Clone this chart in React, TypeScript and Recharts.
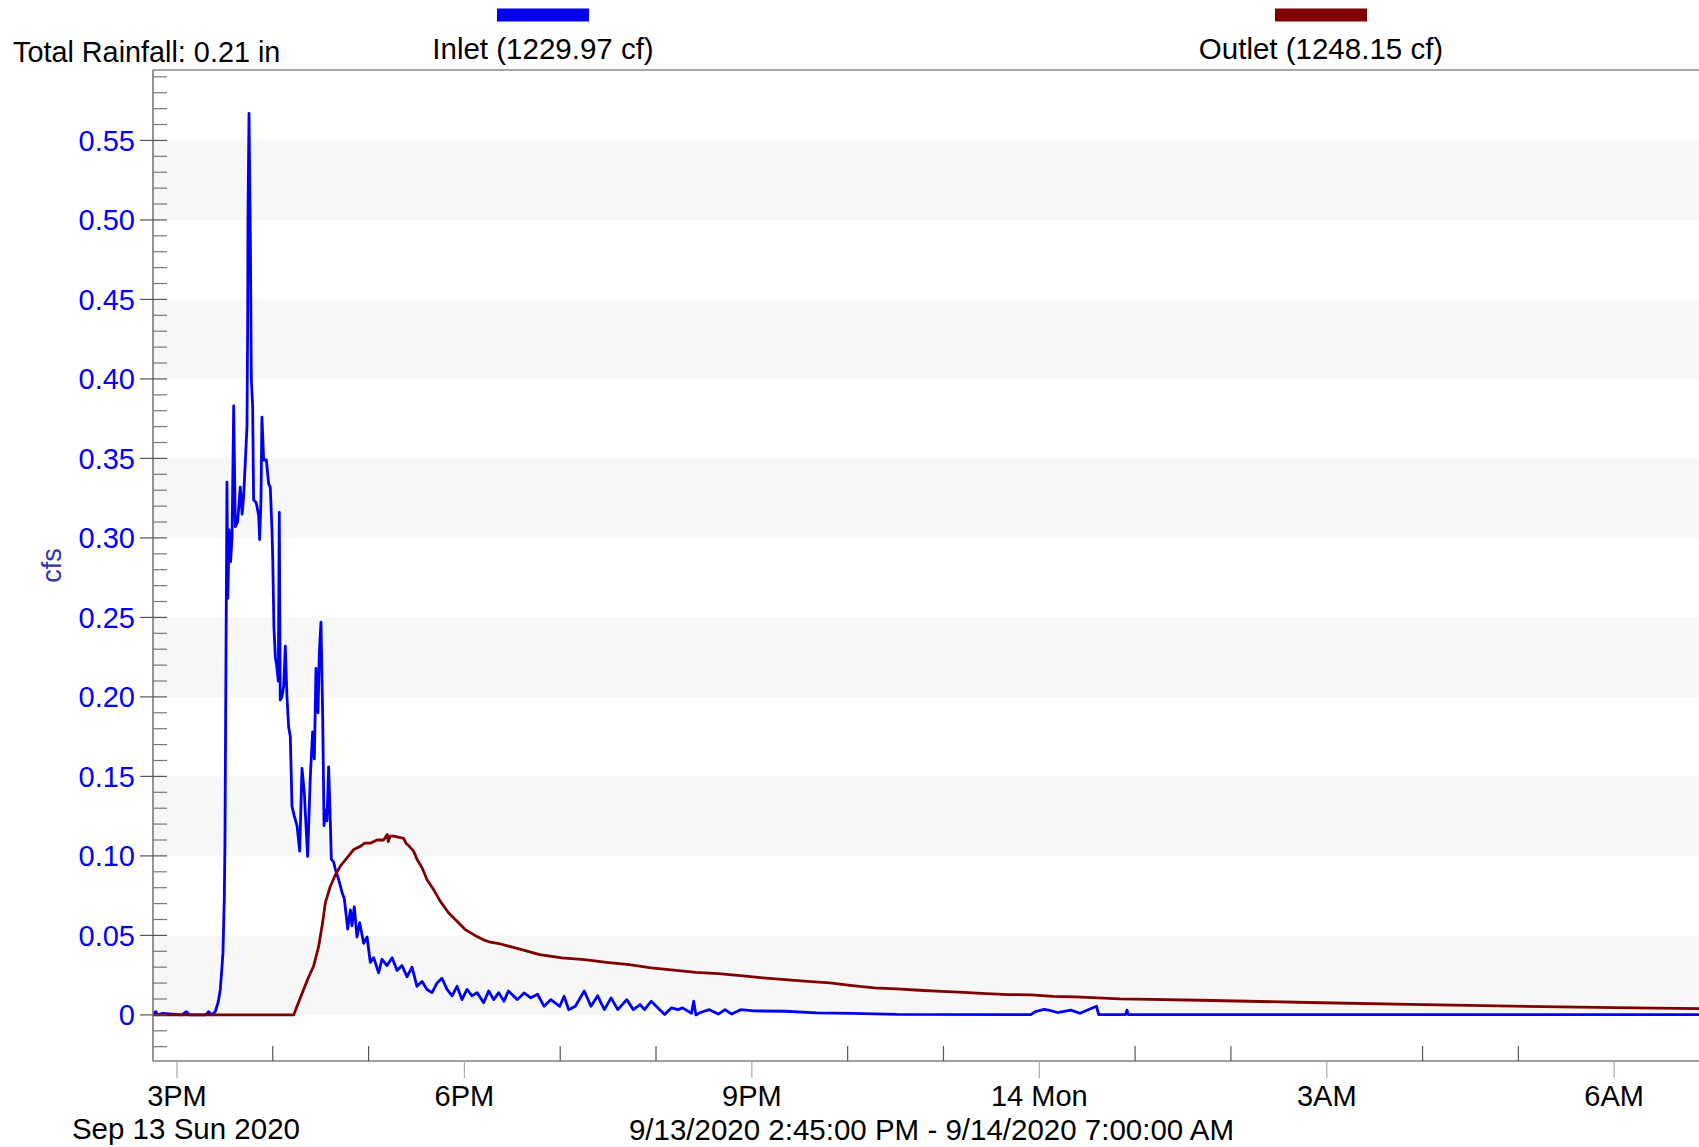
import { LineChart, Line, XAxis, YAxis, ReferenceArea, ReferenceLine } from 'recharts';

// time in hours from midnight 9/13/2020 (24 = midnight 9/14)
const inletHours = [
  14.75, 14.78, 14.8, 14.85, 15.05, 15.1, 15.13, 15.3, 15.33, 15.36, 15.4, 15.43, 15.4525, 15.468, 15.48, 15.494,
  15.501, 15.508, 15.515, 15.522, 15.531, 15.545, 15.56, 15.575, 15.592, 15.609, 15.633, 15.661, 15.68, 15.696,
  15.731, 15.738, 15.741, 15.752, 15.766, 15.776, 15.79, 15.8, 15.828, 15.853, 15.863, 15.877, 15.887, 15.905,
  15.933, 15.957, 15.974, 15.992, 16.0, 16.012, 16.027, 16.04, 16.058, 16.068, 16.078, 16.096, 16.114, 16.131,
  16.148, 16.166, 16.183, 16.201, 16.225, 16.253, 16.281, 16.305, 16.329, 16.364, 16.392, 16.416, 16.434, 16.451,
  16.472, 16.486, 16.503, 16.521, 16.535, 16.552, 16.566, 16.583, 16.601, 16.611, 16.636, 16.653, 16.688, 16.723,
  16.747, 16.782, 16.81, 16.827, 16.851, 16.879, 16.907, 16.949, 16.984, 17.018, 17.053, 17.105, 17.14, 17.192,
  17.245, 17.297, 17.349, 17.401, 17.453, 17.505, 17.558, 17.61, 17.662, 17.714, 17.766, 17.819, 17.871, 17.923,
  17.975, 18.027, 18.08, 18.132, 18.201, 18.253, 18.306, 18.358, 18.413, 18.459, 18.553, 18.623, 18.693, 18.763,
  18.832, 18.901, 18.995, 19.041, 19.088, 19.158, 19.251, 19.321, 19.391, 19.461, 19.531, 19.601, 19.694, 19.763,
  19.834, 19.88, 19.95, 20.02, 20.09, 20.16, 20.23, 20.276, 20.37, 20.393, 20.416, 20.463, 20.556, 20.65, 20.72,
  20.79, 20.883, 21.023, 21.348, 21.675, 22.048, 22.513, 23.912, 23.958, 24.05, 24.098, 24.19, 24.33, 24.424,
  24.597, 24.62, 24.9, 24.915, 24.93, 31.0,
];
const inletCfs = [
  0.001, 0.002, 0.0, 0.001, 0.0, 0.002, 0.0, 0.0, 0.002, 0.0, 0.002, 0.008, 0.016, 0.0285, 0.039, 0.0725,
  0.108, 0.184, 0.259, 0.335, 0.262, 0.305, 0.285, 0.3, 0.383, 0.307, 0.31, 0.332, 0.315, 0.326,
  0.37, 0.435, 0.5, 0.567, 0.49, 0.4, 0.383, 0.324, 0.322, 0.314, 0.299, 0.324, 0.376, 0.349,
  0.349, 0.334, 0.332, 0.305, 0.286, 0.244, 0.225, 0.22, 0.21, 0.316, 0.198, 0.2, 0.207, 0.232,
  0.2, 0.181, 0.175, 0.131, 0.125, 0.119, 0.103, 0.155, 0.14, 0.0996, 0.15, 0.178, 0.161, 0.218,
  0.19, 0.228, 0.247, 0.188, 0.119, 0.129, 0.122, 0.156, 0.121, 0.098, 0.096, 0.0915, 0.085, 0.077,
  0.073, 0.054, 0.066, 0.056, 0.068, 0.049, 0.058, 0.045, 0.049, 0.033, 0.036, 0.0265, 0.035, 0.031,
  0.036, 0.028, 0.031, 0.024, 0.03, 0.018, 0.021, 0.016, 0.014, 0.02, 0.023, 0.016, 0.012, 0.018,
  0.0096, 0.016, 0.012, 0.014, 0.0077, 0.015, 0.0096, 0.014, 0.0086, 0.015, 0.0096, 0.0138, 0.0107, 0.013,
  0.0054, 0.0096, 0.0054, 0.0117, 0.0033, 0.0054, 0.015, 0.0054, 0.012, 0.0033, 0.0107, 0.0033, 0.0096, 0.0033,
  0.0065, 0.0033, 0.0086, 0.0044, 0.0002, 0.0044, 0.0033, 0.0044, 0.001, 0.0086, 0.0, 0.0015, 0.0033, 0.0005, 0.0033,
  0.0005, 0.0033, 0.0025, 0.0023, 0.0013, 0.001, 0.0003, 0.0002, 0.002, 0.0035, 0.003, 0.0015, 0.003, 0.001,
  0.0054, 0.0002, 0.0002, 0.003, 0.0002, 0.0002,
];

const outletHours = [
  14.75, 16.218, 16.27, 16.322, 16.375, 16.426, 16.479, 16.514, 16.549, 16.601, 16.653, 16.705, 16.775, 16.844,
  16.914, 16.96, 17.018, 17.088, 17.157, 17.195, 17.205, 17.225, 17.262, 17.366, 17.39, 17.418, 17.47, 17.506,
  17.558, 17.61, 17.679, 17.749, 17.836, 17.923, 18.01, 18.11, 18.2, 18.27, 18.375, 18.599, 18.785, 19.018,
  19.251, 19.485, 19.718, 19.95, 20.183, 20.416, 20.65, 20.883, 21.115, 21.348, 21.581, 21.815, 22.048, 22.28,
  22.513, 22.747, 22.98, 23.212, 23.445, 23.678, 23.912, 24.145, 24.377, 24.61, 24.843, 25.16, 25.68, 26.81,
  27.87, 28.94, 30.005, 31.0,
];
const outletCfs = [
  0, 0, 0.008, 0.016, 0.024, 0.0306, 0.0431, 0.0557, 0.0706, 0.0809, 0.088, 0.0935, 0.0987, 0.104,
  0.106, 0.108, 0.108, 0.11, 0.11, 0.1134, 0.109, 0.1125, 0.1125, 0.111, 0.108, 0.1065, 0.103, 0.0977,
  0.0925, 0.085, 0.0788, 0.0714, 0.0641, 0.0589, 0.0536, 0.05, 0.0472, 0.0457, 0.0446, 0.0411, 0.0379, 0.0358,
  0.0348, 0.0331, 0.0316, 0.0296, 0.0281, 0.0268, 0.026, 0.0247, 0.0233, 0.0222, 0.0211, 0.0201, 0.0184, 0.017,
  0.0163, 0.0155, 0.0148, 0.0142, 0.0134, 0.0128, 0.0126, 0.0117, 0.0113, 0.0107, 0.0101, 0.0098, 0.0092, 0.0078,
  0.0066, 0.0055, 0.0046, 0.0038,
];

const seriesNames = ['Inlet (1229.97 cf)', 'Outlet (1248.15 cf)'];
const seriesColors = ['#0000f0', '#800000'];
const rainfallText = 'Total Rainfall: 0.21 in';
const yAxisTitle = 'cfs';

const yMajorTicks = [0, 0.05, 0.1, 0.15, 0.2, 0.25, 0.3, 0.35, 0.4, 0.45, 0.5, 0.55];
const yTickLabels = ['0', '0.05', '0.10', '0.15', '0.20', '0.25', '0.30', '0.35', '0.40', '0.45', '0.50', '0.55'];
const xMajorHours = [15, 18, 21, 24, 27, 30];
const xTickLabels = ['3PM', '6PM', '9PM', '14 Mon', '3AM', '6AM'];
const dateLabel = 'Sep 13 Sun 2020';
const rangeLabel = '9/13/2020 2:45:00 PM - 9/14/2020 7:00:00 AM';

const xDomain = [14.75, 31];
const yDomain = [-0.029, 0.5943];

const FONT = '"Liberation Sans", Arial, sans-serif';

const inletData = inletHours.map((t, i) => ({ t, v: inletCfs[i] }));
const outletData = outletHours.map((t, i) => ({ t, v: outletCfs[i] }));

// minor ticks every 0.01 cfs, every hour
const yTicks = Array.from({ length: 62 }, (_, i) => (i - 2) / 100);
const xTicks = Array.from({ length: 17 }, (_, i) => 15 + i);

// shaded bands: 0-0.05, 0.10-0.15, ...
const bands = yMajorTicks.filter((_, i) => i % 2 === 0).map((v) => [v, v + 0.05]);

function YTick(props: any) {
  const { x, y, payload } = props;
  const idx = yMajorTicks.findIndex((m) => Math.abs(m - payload.value) < 1e-6);
  if (idx < 0) {
    return <line x1={x} x2={x + 14} y1={y} y2={y} stroke="#777" strokeWidth={1.2} />;
  }
  return (
    <g>
      <line x1={x - 13} x2={x + 14} y1={y} y2={y} stroke="#555" strokeWidth={1.2} />
      <text x={x - 18} y={y + 10.5} textAnchor="end" fill="#0000ff" fontSize={29} fontFamily={FONT}>
        {yTickLabels[idx]}
      </text>
    </g>
  );
}

function XTick(props: any) {
  const { x, y, payload } = props;
  const idx = xMajorHours.indexOf(payload.value);
  if (idx < 0) {
    return <line x1={x} x2={x} y1={y} y2={y - 15} stroke="#555" strokeWidth={1.2} />;
  }
  return (
    <g>
      <line x1={x} x2={x} y1={y} y2={y + 17} stroke="#aaa" strokeWidth={1.2} />
      <text x={x} y={y + 45} textAnchor="middle" fill="#000" fontSize={29} fontFamily={FONT}>
        {xTickLabels[idx]}
      </text>
      {idx === 0 && (
        <text x={x + 9} y={y + 78} textAnchor="middle" fill="#000" fontSize={29.5} fontFamily={FONT}>
          {dateLabel}
        </text>
      )}
    </g>
  );
}

export default function App() {
  const legendX = [543, 1321];
  return (
    <div style={{ position: 'absolute', left: 0, top: 0, width: 1699, height: 1147, overflow: 'hidden', background: '#fff' }}>
      <LineChart width={1710} height={1147} margin={{ top: 70, right: 0, bottom: 0, left: 0 }}>
        {bands.map(([a, b]) => (
          <ReferenceArea key={a} y1={a} y2={b} fill="#f7f7f7" fillOpacity={1} stroke="none" />
        ))}
        <ReferenceLine y={yDomain[1]} stroke="#888" strokeWidth={1.5} />
        <XAxis
          dataKey="t"
          type="number"
          domain={xDomain}
          ticks={xTicks}
          interval={0}
          allowDataOverflow
          height={86}
          tickSize={0}
          tickMargin={0}
          tickLine={false}
          axisLine={{ stroke: '#808080', strokeWidth: 1.5 }}
          tick={(p: any) => <XTick {...p} />}
          label={{ value: rangeLabel, position: 'insideBottom', offset: 7, fill: '#000', fontSize: 29.5, fontFamily: FONT }}
        />
        <YAxis
          type="number"
          domain={yDomain}
          ticks={yTicks}
          interval={0}
          allowDataOverflow
          width={153}
          tickSize={0}
          tickMargin={0}
          tickLine={false}
          axisLine={{ stroke: '#707070', strokeWidth: 1.5 }}
          tick={(p: any) => <YTick {...p} />}
        />
        <Line
          data={inletData}
          dataKey="v"
          type="linear"
          name={seriesNames[0]}
          stroke={seriesColors[0]}
          strokeWidth={2.8}
          strokeLinejoin="round"
          dot={false}
          isAnimationActive={false}
        />
        <Line
          data={outletData}
          dataKey="v"
          type="linear"
          name={seriesNames[1]}
          stroke={seriesColors[1]}
          strokeWidth={2.8}
          strokeLinejoin="round"
          dot={false}
          isAnimationActive={false}
        />
      </LineChart>
      <svg width={1699} height={1147} style={{ position: 'absolute', left: 0, top: 0, pointerEvents: 'none' }}>
        <text x={13} y={62} fontSize={28.8} fontFamily={FONT} fill="#000">
          {rainfallText}
        </text>
        {seriesNames.map((name, i) => (
          <g key={name}>
            <rect x={legendX[i] - 46} y={8.5} width={92} height={13} fill={seriesColors[i]} />
            <text x={legendX[i]} y={59} textAnchor="middle" fontSize={29.5} fontFamily={FONT} fill="#000">
              {name}
            </text>
          </g>
        ))}
        <text
          x={0}
          y={0}
          transform="translate(61 565.5) rotate(-90)"
          textAnchor="middle"
          fontSize={27}
          fontFamily={FONT}
          fill="#3030b0"
        >
          {yAxisTitle}
        </text>
      </svg>
    </div>
  );
}
